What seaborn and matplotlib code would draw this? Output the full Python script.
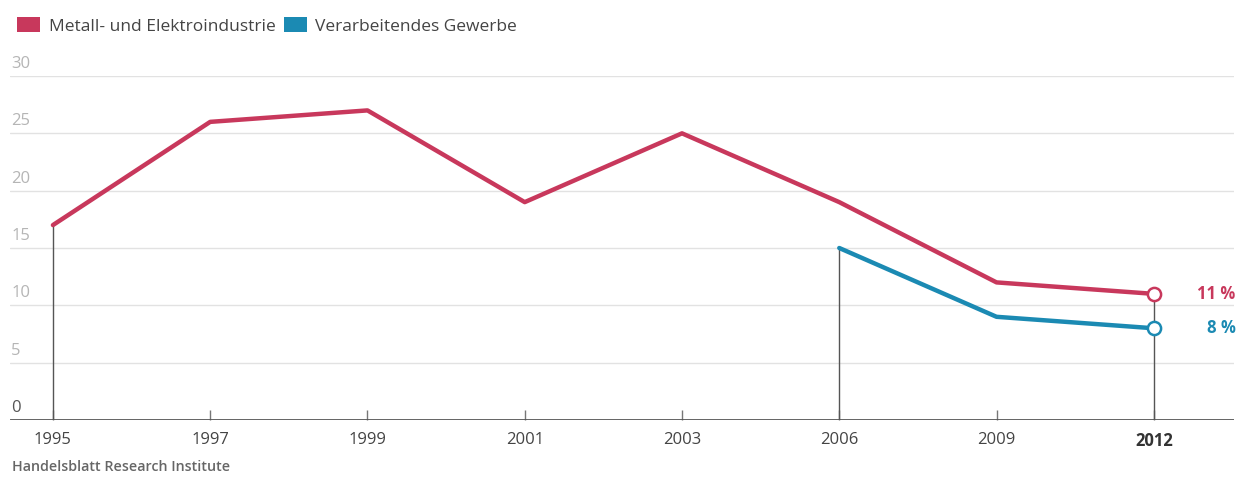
import matplotlib
matplotlib.use("Agg")
import matplotlib.pyplot as plt
from matplotlib.patches import Patch
import matplotlib.transforms as mtransforms
import seaborn as sns
import pandas as pd

# Data
years = ["1995", "1997", "1999", "2001", "2003", "2006", "2009", "2012"]
metall = [17, 26, 27, 19, 25, 19, 12, 11]
gewerbe_years = ["2006", "2009", "2012"]
gewerbe = [15, 9, 8]
y_ticks = [0, 5, 10, 15, 20, 25, 30]
series_names = ["Metall- und Elektroindustrie", "Verarbeitendes Gewerbe"]
end_labels = ["11 %", "8 %"]
source = "Handelsblatt Research Institute"

RED = "#c8385c"
BLUE = "#1b8ab3"

sns.set_theme(style="white")
plt.rcParams["font.family"] = ["Open Sans", "DejaVu Sans"]

pos = {y: i for i, y in enumerate(years)}
df = pd.DataFrame({
    "x": [pos[y] for y in years] + [pos[y] for y in gewerbe_years],
    "value": metall + gewerbe,
    "series": [series_names[0]] * len(years) + [series_names[1]] * len(gewerbe_years),
})

fig = plt.figure(figsize=(12.44, 4.78), dpi=100)
ax = fig.add_axes([10 / 1244, 58 / 478, 1224 / 1244, 344 / 478])

# gridlines
for t in y_ticks[1:]:
    ax.axhline(t, color="#e2e2e2", lw=1.0, zorder=0)
ax.axhline(0, color="#555555", lw=2.0, zorder=3)

# drop lines from first/last points
drops = [(pos["1995"], metall[0]), (pos["2006"], gewerbe[0]), (pos["2012"], metall[-1])]
for xx, yy in drops:
    ax.plot([xx, xx], [0, yy], color="#555555", lw=1.0, zorder=1)

sns.lineplot(data=df, x="x", y="value", hue="series", palette=[RED, BLUE],
             linewidth=3.2, ax=ax, legend=False, zorder=4)

# open end markers
ax.scatter([pos["2012"]], [metall[-1]], s=90, facecolor="white", edgecolor=RED,
           linewidth=1.8, zorder=6, clip_on=False)
ax.scatter([pos["2012"]], [gewerbe[-1]], s=90, facecolor="white", edgecolor=BLUE,
           linewidth=1.8, zorder=6, clip_on=False)

ax.text(7.52, metall[-1], end_labels[0], color=RED, fontsize=12, fontweight="bold",
        ha="right", va="center")
ax.text(7.52, gewerbe[-1], end_labels[1], color=BLUE, fontsize=12, fontweight="bold",
        ha="right", va="center")

ax.set_xlim(-0.273, 7.51)
ax.set_ylim(0, 30)
for s in ax.spines.values():
    s.set_visible(False)

ax.set_xticks(range(len(years)))
ax.set_xticklabels(years)
ax.tick_params(axis="x", bottom=True, direction="in", length=7, width=1,
               color="#777777", labelsize=12, labelcolor="#444444", pad=9)
ax.get_xticklabels()[-1].set_fontweight("bold")
ax.get_xticklabels()[-1].set_color("#333333")
ax.set_yticks([])
ax.set_xlabel("")
ax.set_ylabel("")

# y labels sitting on the gridlines
trans = mtransforms.blended_transform_factory(ax.transAxes, ax.transData)
for t in y_ticks:
    ax.text(0.001, t + 0.35, str(t), transform=trans, ha="left", va="bottom",
            fontsize=12, color="#555555" if t == 0 else "#b5b5b5")

# legend
handles = [Patch(facecolor=RED, edgecolor="none"), Patch(facecolor=BLUE, edgecolor="none")]
fig.legend(handles, series_names, loc="upper left", bbox_to_anchor=(0.0, 1.0),
           ncol=2, frameon=False, fontsize=12.5, handlelength=1.3, handleheight=0.9,
           handletextpad=0.5, columnspacing=0.5, borderaxespad=0.6,
           labelcolor="#444444")

fig.text(12 / 1244, 1 - 467 / 478, source, fontsize=10.3, fontweight="semibold",
         color="#666666", ha="left", va="center")

fig.savefig("out.png", dpi=100)
